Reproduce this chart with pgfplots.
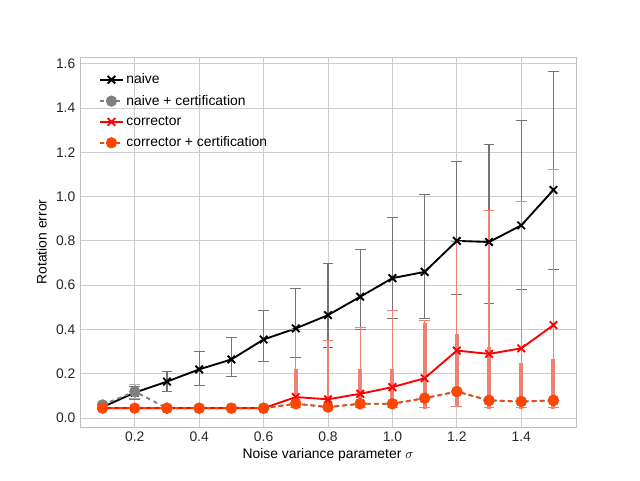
\documentclass[border=0pt]{standalone}
\usepackage{pgfplots}
\pgfplotsset{compat=1.18}
\usepackage{fontspec}
\setmainfont{Liberation Sans}
\definecolor{salmon}{RGB}{240,128,114}
\definecolor{oran}{RGB}{255,69,0}
\begin{document}
\begin{tikzpicture}
\useasboundingbox (-60pt,-39.75pt) rectangle (420pt,320.25pt);
\begin{axis}[scale only axis, width=372pt, height=277.5pt,
  xmin=0.03, xmax=1.57, ymin=-0.04, ymax=1.63,
  xtick={0.2,0.4,...,1.4}, ytick={0,0.2,...,1.6},
  xticklabel style={/pgf/number format/fixed,/pgf/number format/precision=1,/pgf/number format/fixed zerofill},
  yticklabel style={/pgf/number format/fixed,/pgf/number format/precision=1,/pgf/number format/fixed zerofill},
  /pgf/number format/assume math mode=true,
  tick label style={font=\fontsize{10.4}{12}\selectfont, color=black!85},
  label style={font=\fontsize{10.4}{12}\selectfont},
  xlabel={Noise variance parameter $\sigma$}, ylabel={Rotation error},
  xlabel style={yshift=2pt},
  grid=major, grid style={color=black!20, line width=0.6pt},
  axis line style={color=black!25}, tick style={draw=none},
  legend pos=north west, legend cell align=left,
  legend style={draw=none, fill=none, font=\fontsize{10.4}{12}\selectfont, row sep=3pt},
]
\addplot[black, line width=1.4pt, mark=x, mark size=4pt,
  error bars/.cd, y dir=both, y explicit, error bar style={black!55, line width=0.9pt, solid}, error mark options={black!55, rotate=90, mark size=4pt, solid}]
 coordinates {
 (0.1,0.05) +=(0,0.02) -=(0,0.01)
 (0.2,0.115) +=(0,0.03) -=(0,0.03)
 (0.3,0.165) +=(0,0.045) -=(0,0.045)
 (0.4,0.22) +=(0,0.08) -=(0,0.07)
 (0.5,0.265) +=(0,0.10) -=(0,0.075)
 (0.6,0.355) +=(0,0.13) -=(0,0.10)
 (0.7,0.405) +=(0,0.18) -=(0,0.13)
 (0.8,0.465) +=(0,0.235) -=(0,0.145)
 (0.9,0.548) +=(0,0.212) -=(0,0.148)
 (1.0,0.632) +=(0,0.273) -=(0,0.182)
 (1.1,0.66) +=(0,0.35) -=(0,0.21)
 (1.2,0.80) +=(0,0.36) -=(0,0.24)
 (1.3,0.795) +=(0,0.44) -=(0,0.275)
 (1.4,0.87) +=(0,0.475) -=(0,0.29)
 (1.5,1.03) +=(0,0.535) -=(0,0.36)
 };
\addlegendentry{naive}
\addplot[gray, dashed, line width=1.4pt, mark=*, mark size=3.5pt, mark options={solid},
  error bars/.cd, y dir=both, y explicit, error bar style={black!30, line width=1.5pt, solid}, error mark options={black!30, rotate=90, mark size=4pt, solid}]
 coordinates {
 (0.1,0.06) +=(0,0.01) -=(0,0.01)
 (0.2,0.12) +=(0,0.035) -=(0,0.03)
 (0.3,0.045) (0.4,0.045) (0.5,0.045) (0.6,0.045) (0.7,0.065) (0.8,0.05)
 (0.9,0.065) (1.0,0.065) (1.1,0.09) (1.2,0.12) (1.3,0.08) (1.4,0.075) (1.5,0.08)
 };
\addlegendentry{naive + certification}
\addplot[red, line width=1.4pt, mark=x, mark size=4pt,
  error bars/.cd, y dir=both, y explicit, error bar style={salmon, line width=1pt, solid}, error mark options={salmon, rotate=90, mark size=4pt, solid}]
 coordinates {
 (0.1,0.045) (0.2,0.045) (0.3,0.045) (0.4,0.045) (0.5,0.045) (0.6,0.045)
 (0.7,0.095) +=(0,0.305) -=(0,0.045)
 (0.8,0.085) +=(0,0.265) -=(0,0.035)
 (0.9,0.11) +=(0,0.30) -=(0,0.06)
 (1.0,0.14) +=(0,0.345) -=(0,0.09)
 (1.1,0.18) +=(0,0.26) -=(0,0.13)
 (1.2,0.305) +=(0,0.495) -=(0,0.25)
 (1.3,0.29) +=(0,0.65) -=(0,0.24)
 (1.4,0.315) +=(0,0.665) -=(0,0.265)
 (1.5,0.42) +=(0,0.705) -=(0,0.37)
 };
\addlegendentry{corrector}
\addplot[oran, dashed, line width=1.4pt, mark=*, mark size=3.5pt, mark options={solid},
  error bars/.cd, y dir=both, y explicit, error bar style={salmon, line width=3pt, solid}, error mark=none]
 coordinates {
 (0.1,0.045) (0.2,0.045) (0.3,0.045) (0.4,0.045) (0.5,0.045) (0.6,0.045)
 (0.7,0.065) +=(0,0.155) -=(0,0.025)
 (0.8,0.05) +=(0,0.03) -=(0,0.01)
 (0.9,0.065) +=(0,0.155) -=(0,0.025)
 (1.0,0.065) +=(0,0.155) -=(0,0.025)
 (1.1,0.09) +=(0,0.34) -=(0,0.05)
 (1.2,0.12) +=(0,0.26) -=(0,0.07)
 (1.3,0.08) +=(0,0.24) -=(0,0.04)
 (1.4,0.075) +=(0,0.175) -=(0,0.035)
 (1.5,0.08) +=(0,0.185) -=(0,0.04)
 };
\addlegendentry{corrector + certification}
\end{axis}
\end{tikzpicture}
\end{document}
